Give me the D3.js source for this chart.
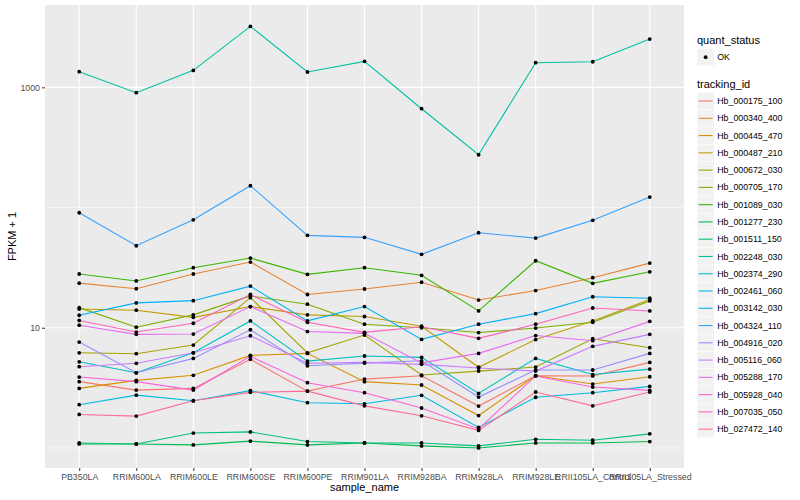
<!DOCTYPE html>
<html>
<head>
<meta charset="utf-8">
<title>FPKM per sample</title>
<style>
  body { margin: 0; background: white; }
  text { font-family: "Liberation Sans", Arial, sans-serif; }
  .axis path { display: none; }
  .axis line { stroke: #333333; }
  .axis text { fill: #4d4d4d; font-size: 8.8px; }
  .series { fill: none; stroke-width: 1.1; }
  .dot { fill: black; }
  .legend text { font-size: 8.8px; fill: black; }
  .legend .title { font-size: 11px; }
  .axis-title { font-size: 11px; fill: black; }
</style>
<script src="https://d3js.org/d3.v7.min.js"></script>
</head>
<body>
<script>
const sampleNames = ["PB350LA", "RRIM600LA", "RRIM600LE", "RRIM600SE", "RRIM600PE", "RRIM901LA",
  "RRIM928BA", "RRIM928LA", "RRIM928LE", "RRII105LA_Control", "RRII105LA_Stressed"];

const trackingIds = ["Hb_000175_100", "Hb_000340_400", "Hb_000445_470", "Hb_000487_210", "Hb_000672_030",
  "Hb_000705_170", "Hb_001089_030", "Hb_001277_230", "Hb_001511_150", "Hb_002248_030",
  "Hb_002374_290", "Hb_002461_060", "Hb_003142_030", "Hb_004324_110", "Hb_004916_020",
  "Hb_005116_060", "Hb_005288_170", "Hb_005928_040", "Hb_007035_050", "Hb_027472_140"];

const quantStatus = ["OK"];
const yTicks = [10, 1000];
const yMinorTicks = [1, 100];

// FPKM + 1, one value per sample
const hb_000175_100 = [3.56, 3.03, 3.13, 5.46, 2.97, 3.74, 3.99, 2.23, 3.99, 3.97, 5.15];
const hb_000340_400 = [23.5, 21.1, 28.0, 35.2, 18.9, 21.0, 23.9, 17.0, 20.4, 26.1, 34.5];
const hb_000445_470 = [3.13, 3.65, 4.02, 5.89, 6.12, 3.56, 3.34, 1.86, 3.99, 3.40, 3.91];
const hb_000487_210 = [14.3, 14.0, 12.2, 15.0, 12.8, 12.4, 10.3, 4.69, 7.97, 11.4, 17.2];
const hb_000672_030 = [6.19, 6.08, 7.18, 17.8, 6.19, 8.69, 4.04, 4.36, 4.71, 8.10, 6.82];
const hb_000705_170 = [14.7, 10.1, 12.8, 18.4, 15.7, 10.7, 10.0, 9.12, 9.94, 11.1, 16.7];
const hb_001089_030 = [28.0, 24.5, 31.6, 38.0, 27.8, 31.6, 27.3, 13.8, 36.1, 23.4, 29.2];
const hb_001277_230 = [1.08, 1.08, 1.06, 1.14, 1.06, 1.10, 1.04, 1.00, 1.10, 1.10, 1.13];
const hb_001511_150 = [1.10, 1.08, 1.33, 1.36, 1.13, 1.10, 1.10, 1.04, 1.18, 1.16, 1.31];
const hb_002248_030 = [1349, 902, 1384, 3215, 1341, 1645, 664, 275, 1603, 1633, 2523];
const hb_002374_290 = [5.21, 4.22, 6.19, 11.4, 5.28, 5.82, 5.67, 2.84, 5.56, 4.08, 4.53];
const hb_002461_060 = [2.29, 2.75, 2.47, 3.00, 2.38, 2.33, 2.74, 1.48, 2.64, 2.88, 3.25];
const hb_003142_030 = [12.7, 16.1, 16.8, 22.2, 11.4, 15.0, 8.0, 10.7, 13.1, 18.1, 17.6];
const hb_004324_110 = [90.5, 48.1, 79.1, 151.8, 58.7, 56.5, 40.8, 61.7, 55.7, 78.3, 122.3];
const hb_004916_020 = [7.60, 4.22, 5.56, 9.62, 4.83, 5.08, 5.31, 2.65, 4.45, 4.45, 6.12];
const hb_005116_060 = [4.74, 5.06, 6.19, 8.58, 5.06, 5.15, 4.96, 4.62, 4.36, 7.00, 8.81];
const hb_005288_170 = [10.5, 8.81, 8.86, 15.0, 9.30, 8.98, 5.10, 6.12, 8.61, 7.80, 11.3];
const hb_005928_040 = [3.89, 3.56, 3.03, 5.78, 3.49, 2.88, 2.15, 1.44, 3.97, 3.21, 3.01];
const hb_007035_050 = [11.5, 9.21, 10.9, 18.9, 11.1, 9.16, 10.2, 8.16, 10.7, 14.6, 13.8];
const hb_027472_140 = [1.90, 1.84, 2.47, 2.90, 2.97, 2.24, 1.85, 1.40, 2.92, 2.24, 2.92];

const seriesValues = [hb_000175_100, hb_000340_400, hb_000445_470, hb_000487_210, hb_000672_030,
  hb_000705_170, hb_001089_030, hb_001277_230, hb_001511_150, hb_002248_030,
  hb_002374_290, hb_002461_060, hb_003142_030, hb_004324_110, hb_004916_020,
  hb_005116_060, hb_005288_170, hb_005928_040, hb_007035_050, hb_027472_140];

// ggplot default hue palette for 20 levels
const palette = ["#F8766D", "#EA8331", "#D89000", "#C09B00", "#A3A500", "#7CAE00", "#39B600", "#00BB4E",
  "#00BF7D", "#00C1A3", "#00BFC4", "#00BAE0", "#00B0F6", "#35A2FF", "#9590FF", "#C77CFF",
  "#E76BF3", "#FA62DB", "#FF62BC", "#FF6C91"];

const series = trackingIds.map((id, i) => ({
  id: id,
  points: sampleNames.map((s, j) => ({ sample: s, value: seriesValues[i][j] }))
}));

const width = 800, height = 500;
const panel = { left: 45, top: 5, right: 684, bottom: 468 };

const svg = d3.select('body').append('svg')
  .attr('width', width)
  .attr('height', height);

const x = d3.scalePoint()
  .domain(sampleNames)
  .range([panel.left, panel.right])
  .padding(0.6);

const y = d3.scaleLog()
  .domain([0.681, 4842])
  .range([panel.bottom, panel.top]);

const color = d3.scaleOrdinal().domain(trackingIds).range(palette);

// panel + grid
svg.append('rect')
  .attr('x', panel.left).attr('y', panel.top)
  .attr('width', panel.right - panel.left).attr('height', panel.bottom - panel.top)
  .attr('fill', '#ebebeb');

const grid = svg.append('g');
grid.selectAll('.minor').data(yMinorTicks).enter().append('line')
  .attr('x1', panel.left).attr('x2', panel.right)
  .attr('y1', d => y(d)).attr('y2', d => y(d))
  .attr('stroke', 'white').attr('stroke-width', 0.55);
grid.selectAll('.major-y').data(yTicks).enter().append('line')
  .attr('x1', panel.left).attr('x2', panel.right)
  .attr('y1', d => y(d)).attr('y2', d => y(d))
  .attr('stroke', 'white').attr('stroke-width', 1.1);
grid.selectAll('.major-x').data(sampleNames).enter().append('line')
  .attr('x1', d => x(d)).attr('x2', d => x(d))
  .attr('y1', panel.top).attr('y2', panel.bottom)
  .attr('stroke', 'white').attr('stroke-width', 1.1);

// lines then points
const line = d3.line()
  .x(d => x(d.sample))
  .y(d => y(d.value));

svg.append('g').selectAll('path')
  .data(series)
  .enter().append('path')
  .attr('class', 'series')
  .attr('stroke', d => color(d.id))
  .attr('d', d => line(d.points));

svg.append('g').selectAll('g')
  .data(series)
  .enter().append('g')
  .selectAll('circle')
  .data(d => d.points)
  .enter().append('circle')
  .attr('class', 'dot')
  .attr('cx', d => x(d.sample))
  .attr('cy', d => y(d.value))
  .attr('r', 1.9);

// axes
svg.append('g')
  .attr('class', 'axis')
  .attr('transform', `translate(0, ${panel.bottom})`)
  .call(d3.axisBottom(x).tickSize(3).tickPadding(3));

svg.append('g')
  .attr('class', 'axis')
  .attr('transform', `translate(${panel.left}, 0)`)
  .call(d3.axisLeft(y).tickValues(yTicks).tickFormat(d3.format('d')).tickSize(3).tickPadding(2));

svg.append('text')
  .attr('class', 'axis-title')
  .attr('x', (panel.left + panel.right) / 2)
  .attr('y', 491)
  .attr('text-anchor', 'middle')
  .text('sample_name');

svg.append('text')
  .attr('class', 'axis-title')
  .attr('transform', `translate(16, ${(panel.top + panel.bottom) / 2}) rotate(-90)`)
  .attr('text-anchor', 'middle')
  .text('FPKM + 1');

// legends
const legend = svg.append('g').attr('class', 'legend');
const keyX = 697, keySize = 17.27;

legend.append('text').attr('class', 'title').attr('x', keyX).attr('y', 44).text('quant_status');
const qs = legend.selectAll('.qs').data(quantStatus).enter().append('g')
  .attr('transform', (d, i) => `translate(${keyX}, ${48.5 + i * keySize})`);
qs.append('rect').attr('width', keySize).attr('height', keySize)
  .attr('fill', '#f2f2f2').attr('stroke', 'white').attr('stroke-width', 0.5);
qs.append('circle').attr('cx', keySize / 2).attr('cy', keySize / 2).attr('r', 1.9).attr('fill', 'black');
qs.append('text').attr('x', keySize + 3).attr('y', keySize / 2).attr('dy', '0.35em').text(d => d);

legend.append('text').attr('class', 'title').attr('x', keyX).attr('y', 88).text('tracking_id');
const tk = legend.selectAll('.tk').data(trackingIds).enter().append('g')
  .attr('transform', (d, i) => `translate(${keyX}, ${92.4 + i * keySize})`);
tk.append('rect').attr('width', keySize).attr('height', keySize)
  .attr('fill', '#f2f2f2').attr('stroke', 'white').attr('stroke-width', 0.5);
tk.append('line').attr('x1', 1.7).attr('x2', keySize - 1.7)
  .attr('y1', keySize / 2).attr('y2', keySize / 2)
  .attr('stroke', d => color(d)).attr('stroke-width', 1.1);
tk.append('text').attr('x', keySize + 3).attr('y', keySize / 2).attr('dy', '0.35em').text(d => d);
</script>
</body>
</html>
